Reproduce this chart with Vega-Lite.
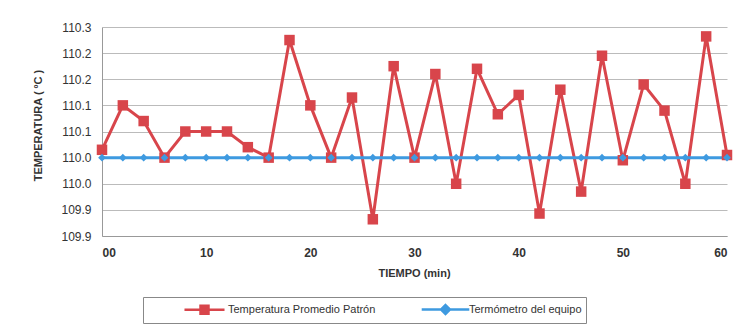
{
  "$schema": "https://vega.github.io/schema/vega-lite/v6.json",
  "width": 625,
  "height": 209,
  "autosize": {"type": "none"},
  "padding": {"left": 102, "top": 27, "right": 15, "bottom": 89},
  "background": "white",
  "config": {
    "view": {"stroke": null},
    "font": "Liberation Sans"
  },
  "data": {
    "values": [
      {"t": 0, "serie": "Temperatura Promedio Patrón", "v": 110.015},
      {"t": 2, "serie": "Temperatura Promedio Patrón", "v": 110.1},
      {"t": 4, "serie": "Temperatura Promedio Patrón", "v": 110.07},
      {"t": 6, "serie": "Temperatura Promedio Patrón", "v": 110.0},
      {"t": 8, "serie": "Temperatura Promedio Patrón", "v": 110.05},
      {"t": 10, "serie": "Temperatura Promedio Patrón", "v": 110.05},
      {"t": 12, "serie": "Temperatura Promedio Patrón", "v": 110.05},
      {"t": 14, "serie": "Temperatura Promedio Patrón", "v": 110.02},
      {"t": 16, "serie": "Temperatura Promedio Patrón", "v": 110.0},
      {"t": 18, "serie": "Temperatura Promedio Patrón", "v": 110.225},
      {"t": 20, "serie": "Temperatura Promedio Patrón", "v": 110.1},
      {"t": 22, "serie": "Temperatura Promedio Patrón", "v": 110.0},
      {"t": 24, "serie": "Temperatura Promedio Patrón", "v": 110.115},
      {"t": 26, "serie": "Temperatura Promedio Patrón", "v": 109.882},
      {"t": 28, "serie": "Temperatura Promedio Patrón", "v": 110.175},
      {"t": 30, "serie": "Temperatura Promedio Patrón", "v": 110.0},
      {"t": 32, "serie": "Temperatura Promedio Patrón", "v": 110.16},
      {"t": 34, "serie": "Temperatura Promedio Patrón", "v": 109.95},
      {"t": 36, "serie": "Temperatura Promedio Patrón", "v": 110.17},
      {"t": 38, "serie": "Temperatura Promedio Patrón", "v": 110.083},
      {"t": 40, "serie": "Temperatura Promedio Patrón", "v": 110.12},
      {"t": 42, "serie": "Temperatura Promedio Patrón", "v": 109.893},
      {"t": 44, "serie": "Temperatura Promedio Patrón", "v": 110.13},
      {"t": 46, "serie": "Temperatura Promedio Patrón", "v": 109.935},
      {"t": 48, "serie": "Temperatura Promedio Patrón", "v": 110.195},
      {"t": 50, "serie": "Temperatura Promedio Patrón", "v": 109.995},
      {"t": 52, "serie": "Temperatura Promedio Patrón", "v": 110.14},
      {"t": 54, "serie": "Temperatura Promedio Patrón", "v": 110.09},
      {"t": 56, "serie": "Temperatura Promedio Patrón", "v": 109.95},
      {"t": 58, "serie": "Temperatura Promedio Patrón", "v": 110.232},
      {"t": 60, "serie": "Temperatura Promedio Patrón", "v": 110.005},
      {"t": 0, "serie": "Termómetro del equipo", "v": 110.0},
      {"t": 2, "serie": "Termómetro del equipo", "v": 110.0},
      {"t": 4, "serie": "Termómetro del equipo", "v": 110.0},
      {"t": 6, "serie": "Termómetro del equipo", "v": 110.0},
      {"t": 8, "serie": "Termómetro del equipo", "v": 110.0},
      {"t": 10, "serie": "Termómetro del equipo", "v": 110.0},
      {"t": 12, "serie": "Termómetro del equipo", "v": 110.0},
      {"t": 14, "serie": "Termómetro del equipo", "v": 110.0},
      {"t": 16, "serie": "Termómetro del equipo", "v": 110.0},
      {"t": 18, "serie": "Termómetro del equipo", "v": 110.0},
      {"t": 20, "serie": "Termómetro del equipo", "v": 110.0},
      {"t": 22, "serie": "Termómetro del equipo", "v": 110.0},
      {"t": 24, "serie": "Termómetro del equipo", "v": 110.0},
      {"t": 26, "serie": "Termómetro del equipo", "v": 110.0},
      {"t": 28, "serie": "Termómetro del equipo", "v": 110.0},
      {"t": 30, "serie": "Termómetro del equipo", "v": 110.0},
      {"t": 32, "serie": "Termómetro del equipo", "v": 110.0},
      {"t": 34, "serie": "Termómetro del equipo", "v": 110.0},
      {"t": 36, "serie": "Termómetro del equipo", "v": 110.0},
      {"t": 38, "serie": "Termómetro del equipo", "v": 110.0},
      {"t": 40, "serie": "Termómetro del equipo", "v": 110.0},
      {"t": 42, "serie": "Termómetro del equipo", "v": 110.0},
      {"t": 44, "serie": "Termómetro del equipo", "v": 110.0},
      {"t": 46, "serie": "Termómetro del equipo", "v": 110.0},
      {"t": 48, "serie": "Termómetro del equipo", "v": 110.0},
      {"t": 50, "serie": "Termómetro del equipo", "v": 110.0},
      {"t": 52, "serie": "Termómetro del equipo", "v": 110.0},
      {"t": 54, "serie": "Termómetro del equipo", "v": 110.0},
      {"t": 56, "serie": "Termómetro del equipo", "v": 110.0},
      {"t": 58, "serie": "Termómetro del equipo", "v": 110.0},
      {"t": 60, "serie": "Termómetro del equipo", "v": 110.0}
    ]
  },
  "encoding": {
    "x": {
      "field": "t",
      "type": "quantitative",
      "scale": {"domain": [0, 60], "nice": false},
      "axis": {
        "title": "TIEMPO  (min)",
        "values": [0, 10, 20, 30, 40, 50, 60],
        "labelExpr": "datum.value == 0 ? '00' : datum.label",
        "grid": false,
        "ticks": false,
        "domainColor": "#999999",
        "labelPadding": 11,
        "labelFontSize": 12,
        "labelFontWeight": "bold",
        "labelColor": "#333333",
        "titleFontSize": 11,
        "titleFontWeight": "bold",
        "titleColor": "#333333",
        "titleX": 312,
        "titleY": 37,
        "titleBaseline": "middle"
      }
    },
    "y": {
      "field": "v",
      "type": "quantitative",
      "scale": {"domain": [109.85, 110.25], "nice": false, "zero": false},
      "axis": {
        "title": "TEMPERATURA  ( ºC )",
        "values": [109.85, 109.9, 109.95, 110.0, 110.05, 110.1, 110.15, 110.2, 110.25],
        "labelExpr": "format(round(datum.value * 10 + 0.001) / 10, '.1f')",
        "grid": true,
        "gridColor": "#bbbbbb",
        "ticks": false,
        "domainColor": "#999999",
        "labelPadding": 11,
        "labelFontSize": 12,
        "labelColor": "#333333",
        "titleFontSize": 11,
        "titleFontWeight": "bold",
        "titleColor": "#333333",
        "titleX": -64,
        "titleY": 98,
        "titleAngle": -90,
        "titleAlign": "center",
        "titleBaseline": "middle"
      }
    },
    "color": {
      "field": "serie",
      "type": "nominal",
      "scale": {
        "domain": ["Temperatura Promedio Patrón", "Termómetro del equipo"],
        "range": ["#d8454b", "#3e9ae0"]
      },
      "legend": {
        "title": null,
        "orient": "none",
        "legendX": 41,
        "legendY": 270,
        "direction": "horizontal",
        "strokeColor": "#888888",
        "padding": 4,
        "labelFontSize": 11,
        "labelLimit": 400,
        "labelColor": "#333333",
        "symbolSize": 196,
        "symbolStrokeWidth": 2.5,
        "columnPadding": 12,
        "labelOffset": 64,
        "labelExpr": "datum.value == 'Termómetro del equipo' ? datum.label + '\u00a0\u00a0\u00a0\u00a0\u00a0\u00a0\u00a0\u00a0\u00a0\u00a0\u00a0' : datum.label",
        "symbolType": "M4.14,0H9.86",
        "encode": {
          "symbols": {
            "update": {
              "shape": {"signal": "datum.value == 'Temperatura Promedio Patrón' ? 'M4.14,0H9.86M6.43,-0.57H7.57V0.57H6.43Z' : 'M3.6,0H10.4M7,-0.64L7.64,0L7,0.64L6.36,0Z'"}
            }
          }
        }
      }
    }
  },
  "layer": [
    {
      "mark": {"type": "line", "strokeWidth": 3},
      "encoding": {"order": {"field": "t"}}
    },
    {
      "transform": [{"filter": "datum.serie == 'Temperatura Promedio Patrón'"}],
      "mark": {"type": "point", "filled": true, "opacity": 1, "shape": "square", "size": 110}
    },
    {
      "transform": [{"filter": "datum.serie == 'Termómetro del equipo'"}],
      "mark": {"type": "point", "filled": true, "opacity": 1, "shape": "diamond", "size": 60}
    }
  ]
}
